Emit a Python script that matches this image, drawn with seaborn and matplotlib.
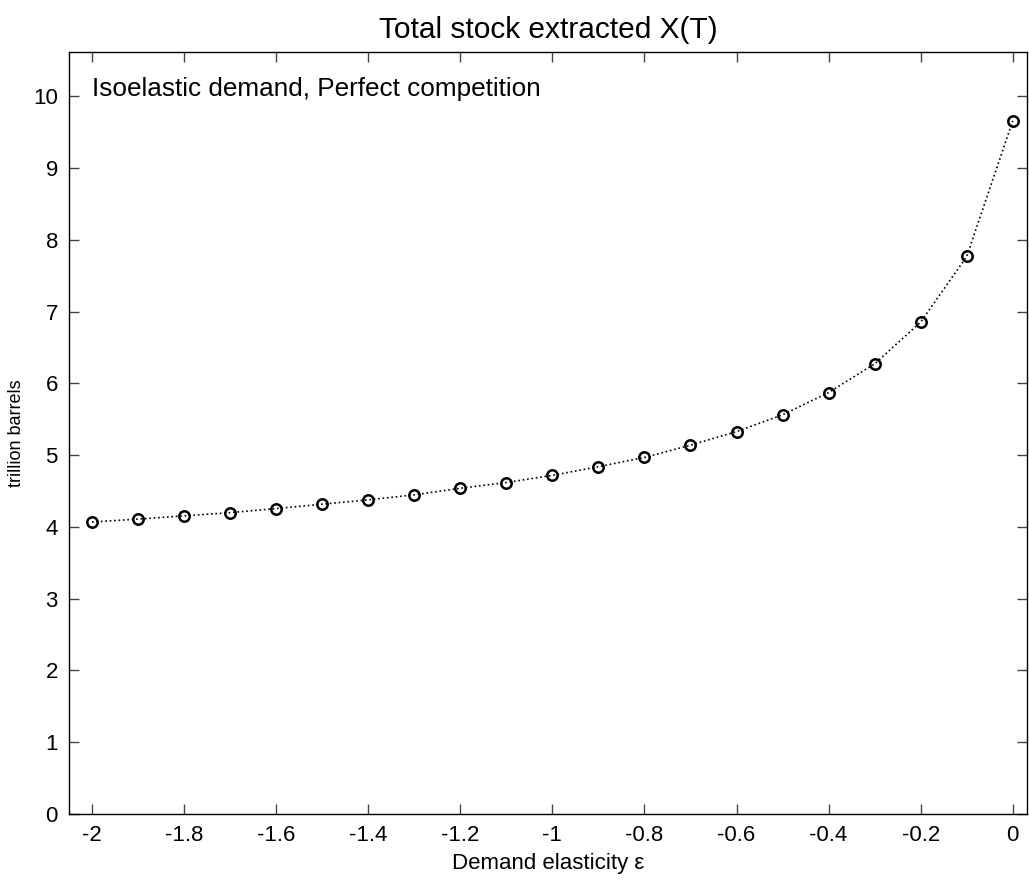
import matplotlib
matplotlib.use("Agg")
import matplotlib.pyplot as plt
import seaborn as sns
import pandas as pd

# Demand elasticity grid and total stock extracted (trillion barrels)
elasticity = [-2.0, -1.9, -1.8, -1.7, -1.6, -1.5, -1.4, -1.3, -1.2, -1.1, -1.0,
              -0.9, -0.8, -0.7, -0.6, -0.5, -0.4, -0.3, -0.2, -0.1, 0.0]
stock = [4.07, 4.11, 4.155, 4.20, 4.257, 4.318, 4.378, 4.448, 4.54, 4.62, 4.72,
         4.84, 4.97, 5.14, 5.33, 5.563, 5.874, 6.274, 6.855, 7.77, 9.66]
x_ticks = [-2, -1.8, -1.6, -1.4, -1.2, -1, -0.8, -0.6, -0.4, -0.2, 0]
x_tick_labels = ["-2", "-1.8", "-1.6", "-1.4", "-1.2", "-1", "-0.8", "-0.6", "-0.4", "-0.2", "0"]
y_ticks = list(range(0, 11))

sns.set_style("ticks")
plt.rcParams["font.family"] = ["Liberation Sans", "DejaVu Sans"]
plt.rcParams["text.color"] = "black"
plt.rcParams["axes.labelcolor"] = "black"

df = pd.DataFrame({"elasticity": elasticity, "stock": stock})

fig = plt.figure(figsize=(10.29, 8.8), dpi=100)
ax = fig.add_axes([69 / 1029, 1 - 814 / 880, (1027 - 69) / 1029, (814 - 52) / 880])

sns.lineplot(data=df, x="elasticity", y="stock", ax=ax, color="black",
             linestyle=":", linewidth=1.2, marker="o", markersize=7.5,
             markerfacecolor="none", markeredgecolor="black",
             markeredgewidth=1.8)

ax.set_xlim(-2.05, 0.031)
ax.set_ylim(0, 10.62)
ax.set_xticks(x_ticks)
ax.set_xticklabels(x_tick_labels)
ax.set_yticks(y_ticks)

for side in ["left", "right", "top", "bottom"]:
    ax.spines[side].set_visible(True)
    ax.spines[side].set_color("black")
    ax.spines[side].set_linewidth(1.0)

ax.tick_params(axis="both", direction="in", length=7.5, width=1.0,
               color="#444444", labelsize=16, labelcolor="black",
               top=True, right=True, pad=8)

ax.set_xlabel("Demand elasticity \u03b5", fontsize=16, labelpad=5, color="black")
ax.set_ylabel("trillion barrels", fontsize=13, labelpad=6, color="black")
ax.set_title("Total stock extracted X(T)", fontsize=21.5, pad=10, color="black")

ax.text(-2.0, 10.0, "Isoelastic demand, Perfect competition",
        fontsize=18.8, ha="left", va="baseline", color="black")

fig.savefig("out.png", dpi=100)
